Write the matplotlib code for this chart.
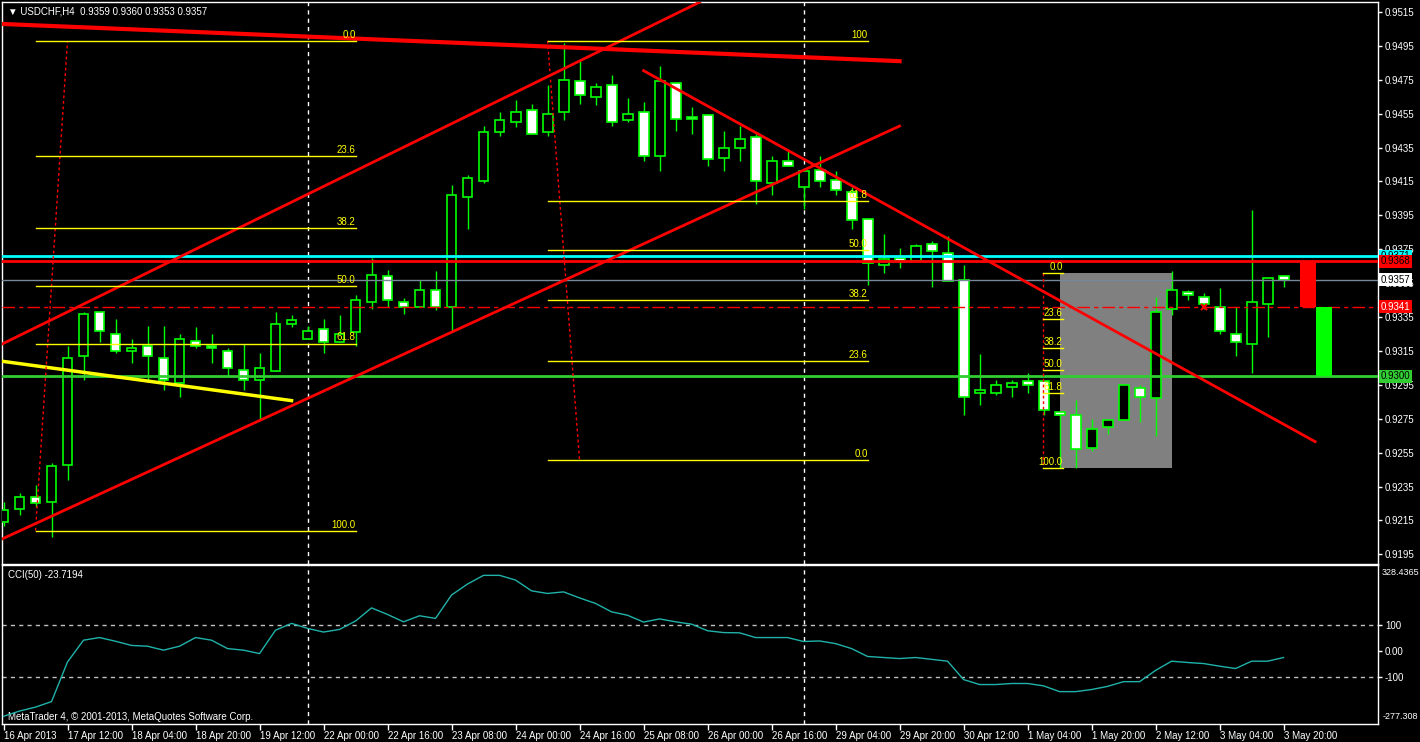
import matplotlib
matplotlib.use("Agg")
import matplotlib.pyplot as plt
import matplotlib.patches as mpatches
import matplotlib.transforms as mtransforms
import numpy as np

plt.rcParams['font.family'] = ['Liberation Sans', 'DejaVu Sans']

# USDCHF H4 candles
opens = [0.9214, 0.9222, 0.9229, 0.9226, 0.9248, 0.9312, 0.9338, 0.9325, 0.9315, 0.9318,
         0.9311, 0.9296, 0.9321, 0.9318, 0.9315, 0.9304, 0.9298, 0.9303, 0.9331, 0.9322,
         0.9328, 0.9320, 0.9326, 0.9344, 0.9359, 0.9344, 0.9341, 0.9351, 0.9341, 0.9406,
         0.9415, 0.9444, 0.9450, 0.9457, 0.9444, 0.9456, 0.9474, 0.9465, 0.9472, 0.9451,
         0.9456, 0.9430, 0.9473, 0.9453, 0.9454, 0.9429, 0.9435, 0.9441, 0.9414, 0.9427,
         0.9412, 0.9422, 0.9416, 0.9409, 0.9393, 0.9366, 0.9370, 0.9368, 0.9378, 0.9373,
         0.9357, 0.9290, 0.9290, 0.9294, 0.9297, 0.9297, 0.9279, 0.9277, 0.9258, 0.9270,
         0.9274, 0.9293, 0.9287, 0.9340, 0.9350, 0.9347, 0.9341, 0.9325, 0.9319, 0.9343,
         0.9359]
highs = [0.9226, 0.9231, 0.9236, 0.9249, 0.9318, 0.9338, 0.9338, 0.9334, 0.9322, 0.9330,
         0.9330, 0.9325, 0.9329, 0.9325, 0.9317, 0.9319, 0.9314, 0.9338, 0.9336, 0.9330,
         0.9334, 0.9336, 0.9348, 0.9370, 0.9363, 0.9346, 0.9357, 0.9362, 0.9413, 0.9419,
         0.9448, 0.9456, 0.9463, 0.9461, 0.9472, 0.9497, 0.9486, 0.9473, 0.9478, 0.9464,
         0.9462, 0.9483, 0.9473, 0.9459, 0.9455, 0.9445, 0.9448, 0.9443, 0.9430, 0.9433,
         0.9422, 0.9430, 0.9421, 0.9412, 0.9393, 0.9384, 0.9376, 0.9378, 0.9380, 0.9383,
         0.9366, 0.9313, 0.9298, 0.9298, 0.9302, 0.9297, 0.9279, 0.9286, 0.9275, 0.9274,
         0.9295, 0.9295, 0.9347, 0.9362, 0.9351, 0.9349, 0.9352, 0.9341, 0.9398, 0.9358,
         0.9360]
lows = [0.9212, 0.9218, 0.9223, 0.9205, 0.9239, 0.9298, 0.9320, 0.9314, 0.9308, 0.9298,
        0.9292, 0.9288, 0.9317, 0.9308, 0.9300, 0.9292, 0.9275, 0.9303, 0.9329, 0.9322,
        0.9314, 0.9320, 0.9318, 0.9340, 0.9341, 0.9337, 0.9341, 0.9339, 0.9326, 0.9387,
        0.9414, 0.9442, 0.9447, 0.9443, 0.9442, 0.9451, 0.9461, 0.9460, 0.9448, 0.9450,
        0.9427, 0.9421, 0.9445, 0.9443, 0.9424, 0.9421, 0.9427, 0.9402, 0.9407, 0.9424,
        0.9399, 0.9412, 0.9407, 0.9387, 0.9354, 0.9361, 0.9364, 0.9368, 0.9353, 0.9356,
        0.9277, 0.9283, 0.9289, 0.9288, 0.9290, 0.9277, 0.9246, 0.9246, 0.9256, 0.9266,
        0.9274, 0.9273, 0.9265, 0.9336, 0.9345, 0.9340, 0.9325, 0.9312, 0.9302, 0.9323,
        0.9353]
closes = [0.9221, 0.9229, 0.9225, 0.9247, 0.9311, 0.9337, 0.9327, 0.9315, 0.9317, 0.9312,
          0.9298, 0.9322, 0.9318, 0.9317, 0.9305, 0.9298, 0.9305, 0.9331, 0.9333, 0.9327,
          0.9320, 0.9325, 0.9345, 0.9360, 0.9345, 0.9341, 0.9351, 0.9341, 0.9407, 0.9417,
          0.9444, 0.9451, 0.9456, 0.9443, 0.9455, 0.9475, 0.9466, 0.9471, 0.9450, 0.9455,
          0.9430, 0.9474, 0.9452, 0.9452, 0.9428, 0.9435, 0.9440, 0.9415, 0.9427, 0.9424,
          0.9421, 0.9415, 0.9410, 0.9392, 0.9367, 0.9369, 0.9368, 0.9377, 0.9374, 0.9356,
          0.9288, 0.9292, 0.9295, 0.9296, 0.9295, 0.9280, 0.9277, 0.9257, 0.9269, 0.9274,
          0.9295, 0.9288, 0.9338, 0.9351, 0.9348, 0.9343, 0.9327, 0.9320, 0.9344, 0.9358,
          0.9357]

cci = [-248, -228, -213, -192, -41, 42, 52, 38, 22, 19,
       4, 19, 52, 42, 10, 4, -9, 80, 106, 87,
       73, 83, 115, 165, 140, 112, 135, 125, 214, 256,
       289, 289, 271, 230, 220, 226, 203, 182, 150, 137,
       111, 123, 112, 103, 78, 71, 70, 52, 52, 52,
       37, 39, 29, 10, -20, -24, -28, -24, -31, -38,
       -108, -127, -127, -123, -123, -132, -154, -154, -146, -134,
       -116, -116, -73, -38, -43, -47, -57, -66, -38, -38,
       -24]

time_labels = ["16 Apr 2013", "17 Apr 12:00", "18 Apr 04:00", "18 Apr 20:00", "19 Apr 12:00",
               "22 Apr 00:00", "22 Apr 16:00", "23 Apr 08:00", "24 Apr 00:00", "24 Apr 16:00",
               "25 Apr 08:00", "26 Apr 00:00", "26 Apr 16:00", "29 Apr 04:00", "29 Apr 20:00",
               "30 Apr 12:00", "1 May 04:00", "1 May 20:00", "2 May 12:00", "3 May 04:00",
               "3 May 20:00"]

fib_levels = [0.0, 23.6, 38.2, 50.0, 61.8, 100.0]
fib_names = ["0.0", "23.6", "38.2", "50.0", "61.8", "100.0"]
fib_names_mid = ["0.0", "23.6", "38.2", "50.0", "61.8", "100"]

# price levels of horizontal lines
level_cyan = 0.9371
level_red = 0.9368
level_bid = 0.9357
level_stop = 0.9341
level_green = 0.9300

W, H = 1420, 742
GREEN = '#00ff00'
fig = plt.figure(figsize=(W / 100, H / 100), dpi=100, facecolor='black')


def px_box(x0, y0, x1, y1):
    return [x0 / W, 1 - y1 / H, (x1 - x0) / W, (y1 - y0) / H]


ax = fig.add_axes(px_box(2, 2, 1378, 564), facecolor='black')
axc = fig.add_axes(px_box(2, 565, 1378, 724), facecolor='black', sharex=ax)

for a in (ax, axc):
    for s in a.spines.values():
        s.set_color('white')
        s.set_linewidth(1)

o = np.array(opens)
h = np.array(highs)
l = np.array(lows)
c = np.array(closes)
idx = np.arange(len(o))

# selection box behind the candles
ax.add_patch(mpatches.Rectangle((66, 0.92462), 7, 0.01146, facecolor='#808080',
                                edgecolor='none', zorder=1))

ax.vlines(idx, l, h, color=GREEN, lw=1, zorder=3)
body_lo = np.minimum(o, c)
body_h = np.maximum(np.abs(c - o), 0.00003)
ax.bar(idx, body_h, bottom=body_lo, width=0.62,
       color=np.where(c >= o, 'black', 'white'), edgecolor=GREEN, linewidth=1.2, zorder=4)

# horizontal levels
ax.axhline(level_cyan, color='#00ffff', lw=2, zorder=5)
ax.axhline(level_red, color='#ff0000', lw=2, zorder=5)
ax.axhline(level_bid, color='#778899', lw=1, zorder=5)
ax.axhline(level_stop, color='#ff0000', lw=1, ls=(0, (9, 3, 3, 3)), zorder=5)
ax.axhline(level_green, color='#32cd32', lw=2, zorder=5)

# trend lines
ax.plot([-0.22, 56.0], [0.9508, 0.9486], color='#ff0000', lw=3, zorder=6)
ax.plot([-0.22, 43.5], [0.93185, 0.95208], color='#ff0000', lw=2, zorder=6)
ax.plot([-0.22, 56.0], [0.92035, 0.94477], color='#ff0000', lw=2, zorder=6)
ax.plot([40.0, 81.97], [0.94804, 0.92615], color='#ff0000', lw=2, zorder=6)
ax.plot([-0.22, 18.0], [0.93091, 0.92857], color='#ffff00', lw=2.5, zorder=6)


def fibo(x0, x1, p0, p100, xa, xb, names):
    # dotted anchor line
    ax.plot(xa, xb, color='#ff0000', lw=1, ls=(0, (2, 2)), zorder=6)
    for lev, name in zip(fib_levels, names):
        p = p0 + (p100 - p0) * lev / 100.0
        ax.plot([x0, x1], [p, p], color='#ffff00', lw=1, zorder=6)
        ax.text(x1, p + 0.00006, name, color='#ffff00', fontsize=7, ha='right',
                va='bottom', zorder=7)


fibo(2, 22, 0.9498, 0.9209, [2, 4], [0.9209, 0.9498], fib_names)
fibo(34, 54, 0.92507, 0.9498, [34, 36], [0.9498, 0.92507], fib_names_mid)
fibo(64.97, 66.2, 0.93608, 0.92462, [64.97, 64.97], [0.93608, 0.92462], fib_names)

# order markers
ax.add_patch(mpatches.Rectangle((81, level_stop), 1, level_red - level_stop,
                                facecolor='#ff0000', edgecolor='none', zorder=5))
ax.add_patch(mpatches.Rectangle((82, level_green), 1, level_stop - level_green,
                                facecolor='#00ff00', edgecolor='none', zorder=5))
ax.plot([75], [level_stop], marker='x', color='#ff0000', ms=4, mew=1.5, zorder=7)

# period separators
for sep in (19, 50):
    for a in (ax, axc):
        a.axvline(sep, color='white', lw=1, ls=(0, (3, 3)), zorder=2)

ax.set_xlim(-0.094, 85.9)
ax.set_ylim(0.91893, 0.95209)
ax.yaxis.tick_right()
ticks = np.arange(0.9195, 0.95151, 0.002)
ax.set_yticks(ticks)
ax.set_yticklabels(['%.4f' % v for v in ticks])
ax.tick_params(axis='y', colors='white', labelsize=7, length=3, width=1, pad=2)
ax.tick_params(axis='x', bottom=False, labelbottom=False)

# price tags on the axis
tr = mtransforms.blended_transform_factory(ax.transAxes, ax.transData)
for val, fc, tc in [(level_cyan, '#00ffff', 'black'), (level_red, '#ff0000', 'black'),
                    (level_bid, 'white', 'black'), (level_stop, '#ff0000', 'white'),
                    (level_green, '#32cd32', 'black')]:
    ax.text(1.0018, val, '%.4f' % val, transform=tr, color=tc, fontsize=7, ha='left',
            va='center', clip_on=False, zorder=10,
            bbox=dict(boxstyle='square,pad=0.15', facecolor=fc, edgecolor='none'))

ax.text(6 / 1376, 1 - 9 / 562, '\u25bc USDCHF,H4  0.9359 0.9360 0.9353 0.9357',
        transform=ax.transAxes, color='white', fontsize=7, ha='left', va='center')

# CCI panel
axc.plot(idx, cci, color='#20b2aa', lw=1, zorder=4)
for v in (100, -100):
    axc.axhline(v, color='#c0c0c0', lw=1, ls=(0, (3, 3)), zorder=2)
axc.set_ylim(-277.308, 328.4365)
axc.yaxis.tick_right()
axc.set_yticks([100, 0, -100])
axc.set_yticklabels(['100', '0.00', '-100'])
axc.tick_params(axis='y', colors='white', labelsize=7, length=3, width=1, pad=2)
axc.text(1.0030, 0.95, '328.4365', transform=axc.transAxes, color='white', fontsize=6.5,
         ha='left', va='center', clip_on=False)
axc.text(1.0030, 0.045, '-277.308', transform=axc.transAxes, color='white', fontsize=6.5,
         ha='left', va='center', clip_on=False)
axc.text(6 / 1376, 1 - 10 / 159, 'CCI(50) -23.7194', transform=axc.transAxes,
         color='white', fontsize=7, ha='left', va='center')
axc.text(6 / 1376, 7 / 159, 'MetaTrader 4, \u00a9 2001-2013, MetaQuotes Software Corp.',
         transform=axc.transAxes, color='white', fontsize=7, ha='left', va='center')

axc.set_xticks(idx[::4])
axc.set_xticklabels(time_labels, ha='left')
axc.tick_params(axis='x', colors='white', labelsize=7, length=4, width=1, pad=1)

fig.savefig('out.png', dpi=100, facecolor='black')
